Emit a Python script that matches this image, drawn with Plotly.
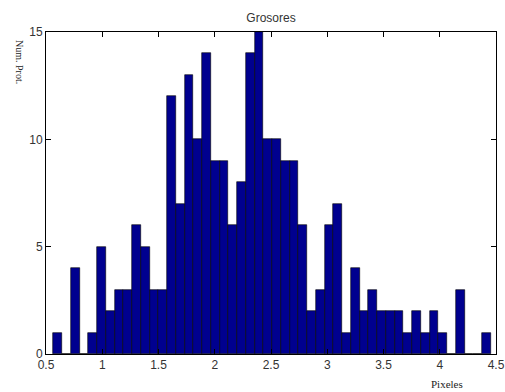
import plotly.graph_objects as go

# Histogram data (50 equal-width bins)
bin_start = 0.565
bin_width = 0.0778
counts = [1, 0, 4, 0, 1, 5, 2, 3, 3, 6,
          5, 3, 3, 12, 7, 13, 10, 14, 9, 9,
          6, 8, 14, 15, 10, 10, 9, 9, 6, 2,
          3, 6, 7, 1, 4, 2, 3, 2, 2, 2,
          1, 2, 1, 2, 1, 0, 3, 0, 0, 1]
x_ticks = [0.5, 1, 1.5, 2, 2.5, 3, 3.5, 4, 4.5]
x_tick_labels = ["0.5", "1", "1.5", "2", "2.5", "3", "3.5", "4", "4.5"]
y_ticks = [0, 5, 10, 15]

centers = [bin_start + bin_width * (i + 0.5) for i in range(len(counts))]

fig = go.Figure(go.Bar(
    x=centers, y=counts, width=bin_width,
    marker=dict(color="#00008F", line=dict(color="#000000", width=0.6)),
    hoverinfo="x+y",
))

axis_common = dict(
    showline=True, linecolor="#000000", linewidth=1, mirror="ticks",
    ticks="inside", ticklen=5, tickcolor="#000000", tickwidth=1,
    showgrid=False, zeroline=False, automargin=False,
    tickfont=dict(family="Liberation Sans, Arial, sans-serif", size=12, color="#333333"),
)

fig.update_layout(
    width=505, height=392,
    margin=dict(l=46, r=9, t=32, b=38),
    paper_bgcolor="white", plot_bgcolor="white",
    bargap=0,
    showlegend=False,
    title=dict(text="Grosores", x=0.5, xref="paper", xanchor="center",
               y=1 - 18 / 392, yref="container", yanchor="middle",
               font=dict(family="Liberation Sans, Arial, sans-serif", size=12, color="#333333")),
    xaxis=dict(range=[0.5, 4.5], tickvals=x_ticks, ticktext=x_tick_labels, **axis_common),
    yaxis=dict(range=[0, 15], tickvals=y_ticks, **axis_common),
    annotations=[
        dict(text="Num. Prot.", textangle=90, xref="paper", yref="paper",
             x=-46 / 450 + 19 / 450, y=1 - 30 / 322, xanchor="center", yanchor="middle",
             showarrow=False,
             font=dict(family="Liberation Serif, Times New Roman, serif", size=10, color="#222222")),
        dict(text="Pixeles", xref="paper", yref="paper",
             x=(447 - 46) / 450, y=-(384 - 354) / 322, xanchor="center", yanchor="middle",
             showarrow=False,
             font=dict(family="Liberation Serif, Times New Roman, serif", size=11, color="#222222")),
    ],
)

fig.write_html(
    "out.html",
    config={"displayModeBar": False},
    post_script="document.body.style.margin='0';document.body.style.overflow='hidden';",
)
